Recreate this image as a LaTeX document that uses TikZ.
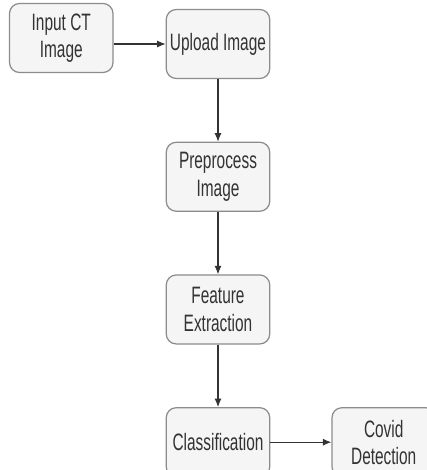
\documentclass[tikz,border=0pt]{standalone}
\usepackage{fontspec}
\setmainfont{Liberation Sans}[FakeStretch=0.65]
\usepackage{xcolor}
\usetikzlibrary{arrows.meta,positioning}
\definecolor{boxfill}{HTML}{F5F5F5}
\definecolor{boxline}{HTML}{8C8C8C}
\definecolor{ink}{HTML}{333333}
\tikzset{
  block/.style={rectangle, draw=boxline, fill=boxfill, line width=0.7pt, rounded corners=0.2cm, align=center, text=ink, minimum width=2.07cm, minimum height=1.38cm, inner sep=1pt, font=\fontsize{13.5}{15.5}\selectfont},
  line/.style={-{Latex[length=1.7mm,width=1.4mm]}, draw=ink, line width=0.6pt}
}
\begin{document}
\begin{tikzpicture}[node distance=1.25cm and 1.04cm]
  \useasboundingbox (0,0) rectangle (8.54,-9.4);
  \clip (0,0) rectangle (8.54,-9.4);
  \node[block] (upload) at (4.36,-0.88) {Upload Image};
  \node[block, left=of upload, yshift=0.12cm] (input) {Input CT\\Image};
  \node[block, below=of upload] (preprocess) {Preprocess\\Image};
  \node[block, below=of preprocess] (feature) {Feature\\Extraction};
  \node[block, below=of feature] (classify) {Classification};
  \node[block, right=1.22cm of classify] (covid) {Covid\\Detection};
  \draw[line] (input.east |- upload.west) -- (upload.west);
  \draw[line] (upload) -- (preprocess);
  \draw[line] (preprocess) -- (feature);
  \draw[line] (feature) -- (classify);
  \draw[line] (classify) -- (covid);
\end{tikzpicture}
\end{document}
